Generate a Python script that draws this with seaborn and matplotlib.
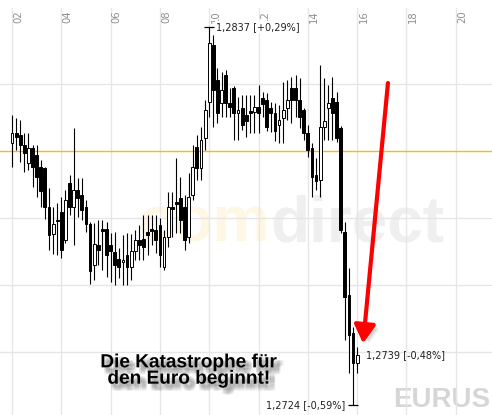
import matplotlib
matplotlib.use("Agg")
import numpy as np
import pandas as pd
import matplotlib.pyplot as plt
import matplotlib.patheffects as pe
from matplotlib.patches import FancyArrowPatch
import seaborn as sns

# EUR/USD, 10-minute candles from 02:00
opens = [1.28024, 1.28054, 1.28048, 1.28018, 1.27964, 1.28009, 1.27988, 1.27952, 1.27949, 1.27833,
         1.27752, 1.27794, 1.27818, 1.27734, 1.27904, 1.27833, 1.27883, 1.27868, 1.27833, 1.27782,
         1.27659, 1.27719, 1.27767, 1.27767, 1.27719, 1.27698, 1.27677, 1.27668, 1.27689, 1.27653,
         1.27701, 1.27734, 1.27737, 1.27758, 1.27767, 1.27764, 1.27779, 1.27653, 1.27743, 1.27833,
         1.27848, 1.27859, 1.27833, 1.27743, 1.27868, 1.28012, 1.27949, 1.28039, 1.28147, 1.28317,
         1.28212, 1.28144, 1.28227, 1.28144, 1.28188, 1.28114, 1.28129, 1.28108, 1.28120, 1.28117,
         1.28132, 1.28158, 1.28152, 1.28129, 1.28114, 1.28078, 1.28099, 1.28129, 1.28188, 1.28188,
         1.28152, 1.28123, 1.28054, 1.28009, 1.27928, 1.27913, 1.28072, 1.28129, 1.28158, 1.28147,
         1.28069, 1.27758, 1.27569, 1.27456, 1.27366]
highs = [1.28108, 1.28099, 1.28093, 1.28054, 1.28054, 1.28018, 1.28018, 1.27973, 1.27952, 1.27889,
         1.27833, 1.27845, 1.27862, 1.27883, 1.27928, 1.28069, 1.27919, 1.27919, 1.27853, 1.27788,
         1.27785, 1.27794, 1.27794, 1.27788, 1.27755, 1.27758, 1.27710, 1.27749, 1.27755, 1.27752,
         1.27764, 1.27779, 1.27809, 1.27809, 1.27809, 1.27809, 1.27800, 1.27764, 1.27877, 1.27877,
         1.27979, 1.27922, 1.27868, 1.27934, 1.28018, 1.28048, 1.28072, 1.28152, 1.28370, 1.28347,
         1.28248, 1.28236, 1.28242, 1.28188, 1.28194, 1.28161, 1.28167, 1.28167, 1.28167, 1.28167,
         1.28197, 1.28176, 1.28173, 1.28147, 1.28144, 1.28138, 1.28206, 1.28212, 1.28221, 1.28227,
         1.28218, 1.28129, 1.28078, 1.28024, 1.27979, 1.28257, 1.28218, 1.28197, 1.28221, 1.28176,
         1.28075, 1.27788, 1.27650, 1.27474, 1.27414]
lows = [1.27952, 1.28003, 1.27967, 1.27937, 1.27943, 1.27892, 1.27862, 1.27833, 1.27797, 1.27704,
        1.27692, 1.27689, 1.27680, 1.27725, 1.27809, 1.27719, 1.27803, 1.27794, 1.27758, 1.27602,
        1.27614, 1.27659, 1.27644, 1.27623, 1.27608, 1.27599, 1.27620, 1.27599, 1.27599, 1.27614,
        1.27674, 1.27674, 1.27674, 1.27689, 1.27719, 1.27695, 1.27653, 1.27644, 1.27713, 1.27743,
        1.27755, 1.27755, 1.27704, 1.27725, 1.27853, 1.27913, 1.27913, 1.28003, 1.28102, 1.28072,
        1.28084, 1.28102, 1.28102, 1.28102, 1.28033, 1.28033, 1.28063, 1.28042, 1.28054, 1.28054,
        1.28054, 1.28102, 1.28060, 1.28057, 1.28030, 1.28024, 1.28024, 1.28093, 1.28084, 1.28102,
        1.28069, 1.28033, 1.27982, 1.27862, 1.27883, 1.27862, 1.28033, 1.28033, 1.28033, 1.28027,
        1.27755, 1.27435, 1.27336, 1.27240, 1.27336]
closes = [1.28054, 1.28042, 1.28018, 1.27994, 1.28009, 1.27952, 1.27922, 1.27880, 1.27833, 1.27749,
          1.27782, 1.27791, 1.27704, 1.27853, 1.27833, 1.27883, 1.27859, 1.27824, 1.27782, 1.27641,
          1.27722, 1.27704, 1.27761, 1.27689, 1.27701, 1.27659, 1.27653, 1.27674, 1.27653, 1.27701,
          1.27734, 1.27719, 1.27713, 1.27749, 1.27761, 1.27734, 1.27689, 1.27743, 1.27833, 1.27827,
          1.27842, 1.27794, 1.27734, 1.27862, 1.27952, 1.27949, 1.28033, 1.28123, 1.28323, 1.28182,
          1.28114, 1.28182, 1.28144, 1.28132, 1.28114, 1.28123, 1.28078, 1.28090, 1.28114, 1.28132,
          1.28114, 1.28141, 1.28072, 1.28114, 1.28060, 1.28093, 1.28123, 1.28152, 1.28152, 1.28152,
          1.28102, 1.28054, 1.28003, 1.27922, 1.27910, 1.28072, 1.28090, 1.28144, 1.28114, 1.28039,
          1.27764, 1.27563, 1.27450, 1.27366, 1.27390]
prev_close = 1.2800
hour_ticks = ["02", "04", "06", "08", "10", "12", "14", "16", "18", "20"]
price_grid = [1.274, 1.276, 1.278, 1.282]
caption = "Die Katastrophe für\nden Euro beginnt!"
symbol = "EURUS"

times = pd.date_range("2010-05-06 02:00", periods=len(opens), freq="10min")
df = pd.DataFrame({"hour": times.hour + times.minute / 60,
                   "open": opens, "high": highs, "low": lows, "close": closes})
df["up"] = df["close"] >= df["open"]

sns.set_theme(style="white")
plt.rcParams["font.family"] = ["DejaVu Sans"]

fig = plt.figure(figsize=(4.92, 4.15), dpi=100)
ax = fig.add_axes([0, 0, 1, 1])
ax.set_xlim(1.513, 21.47)
ax.set_ylim(1.27211, 1.28451)
ax.set_axis_off()

# grid
grid_col = "#e6e6e6"
for t in hour_ticks + ["22"]:
    ax.axvline(int(t), ymin=0, ymax=0.98, color=grid_col, lw=1, zorder=1)
for p in price_grid:
    ax.axhline(p, color=grid_col, lw=1, zorder=1)
ax.axhline(prev_close, color="#f5c000", lw=1, zorder=1.5)

for t in hour_ticks:
    ax.text(int(t) + 0.05, 0.975, t, transform=ax.get_xaxis_transform(),
            rotation=90, ha="left", va="top", fontsize=7.2, color="#8f8f8f", zorder=2)

# watermark
ax.text(0.549, 0.417, "com", transform=ax.transAxes, ha="right", va="baseline",
        fontsize=46, fontweight="bold", family="Liberation Sans", color="#fef7e4", zorder=0.5)
ax.text(0.549, 0.417, "direct", transform=ax.transAxes, ha="left", va="baseline",
        fontsize=46, fontweight="bold", family="Liberation Sans", color="#efefef", zorder=0.5)
ax.text(0.799, 0.005, symbol, transform=ax.transAxes, ha="left", va="bottom",
        fontsize=20, fontweight="bold", family="Liberation Sans", color="#d6d6d6", zorder=0.5)

# candles
ax.vlines(df["hour"], df["low"], df["high"], color="black", lw=0.8, zorder=2)
body_lo = df[["open", "close"]].min(axis=1)
body_h = (df["close"] - df["open"]).abs()
ax.bar(df["hour"], body_h, bottom=body_lo, width=0.115,
       color=np.where(df["up"], "white", "black"), edgecolor="black", lw=0.7, zorder=3)


def label(p):
    pct = (p / prev_close - 1) * 100
    return f"{p:.4f} [{pct:+.2f}%]".replace(".", ",")


hi = df["high"].idxmax()
lo = df["low"].idxmin()
last = df.index[-1]
ax.hlines(df.loc[hi, "high"], df.loc[hi, "hour"] - 0.22, df.loc[hi, "hour"] + 0.2, color="black", lw=0.9, zorder=3)
ax.hlines(df.loc[lo, "low"], df.loc[lo, "hour"] - 0.22, df.loc[lo, "hour"] + 0.2, color="black", lw=0.9, zorder=3)
ax.text(df.loc[hi, "hour"] + 0.27, df.loc[hi, "high"], label(df.loc[hi, "high"]),
        ha="left", va="center", fontsize=7, color="#222222", zorder=4,
        bbox=dict(boxstyle="square,pad=0.1", fc="white", ec="none"))
ax.text(df.loc[lo, "hour"] - 0.33, df.loc[lo, "low"], label(df.loc[lo, "low"]),
        ha="right", va="center", fontsize=7, color="#222222")
ax.text(df.loc[last, "hour"] + 0.36, df.loc[last, "close"], label(df.loc[last, "close"]),
        ha="left", va="center", fontsize=7, color="#222222")

# red arrow
arrow = FancyArrowPatch(posA=(17.25, 1.28203), posB=(16.24, 1.27425),
                        arrowstyle="-|>,head_length=0.55,head_width=0.32", mutation_scale=20,
                        color="#ff0000", lw=3.0, shrinkA=0, shrinkB=0, zorder=5,
                        path_effects=[pe.SimplePatchShadow(offset=(3, -2), shadow_rgbFace="#888888", alpha=0.25),
                                      pe.SimplePatchShadow(offset=(4, -3), shadow_rgbFace="#888888", alpha=0.15),
                                      pe.Normal()])
ax.add_patch(arrow)

# soft shadow under the caption
shadow = [pe.SimplePatchShadow(offset=(dx, dy), shadow_rgbFace="#555555", alpha=0.06)
          for dx in (2, 3, 4, 5) for dy in (-2, -3, -4, -5)]
shadow.append(pe.Normal())
ax.text(0.383, 1 - 371 / 415, caption, transform=ax.transAxes, ha="center", va="center",
        fontsize=13.7, fontweight="bold", family="Liberation Sans", color="black",
        linespacing=0.95, zorder=6, path_effects=shadow)

fig.savefig("out.png", dpi=100)
